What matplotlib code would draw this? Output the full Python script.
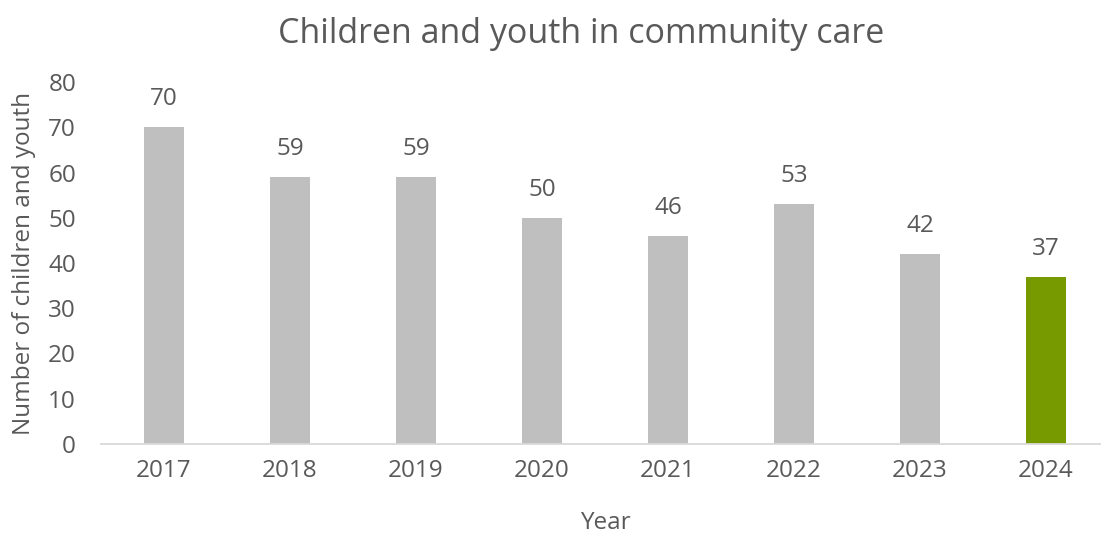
import matplotlib
matplotlib.use("Agg")
import matplotlib.pyplot as plt

years = ["2017", "2018", "2019", "2020", "2021", "2022", "2023", "2024"]
values = [70, 59, 59, 50, 46, 53, 42, 37]
colors = ["#BFBFBF"] * 7 + ["#779A00"]
yticks = [0, 10, 20, 30, 40, 50, 60, 70, 80]

plt.rcParams['font.family'] = ['Open Sans', 'DejaVu Sans']
TXT = "#595959"
FS = 17.5

W, H = 1101, 533
fig = plt.figure(figsize=(W / 100, H / 100), dpi=100)
ax = fig.add_axes([101 / W, (H - 444) / H, 1008 / W, (444 - 82) / H])

x = list(range(len(years)))
bars = ax.bar(x, values, width=0.32, color=colors, zorder=2)
for xi, v in zip(x, values):
    ax.annotate(str(v), (xi, v), xytext=(0, 20), textcoords="offset points",
                ha="center", va="center", fontsize=FS, color=TXT)

ax.set_xlim(-0.5, len(years) - 0.5)
ax.set_ylim(0, 80)
ax.set_xticks(x)
ax.set_xticklabels(years)
ax.set_yticks(yticks)
ax.tick_params(axis="both", length=0, labelsize=FS, colors=TXT)
ax.tick_params(axis="x", pad=11)
ax.tick_params(axis="y", pad=18)
for s in ["top", "right", "left"]:
    ax.spines[s].set_visible(False)
ax.spines["bottom"].set_color("#D9D9D9")
ax.spines["bottom"].set_linewidth(1.3)

ax.set_xlabel("Year", fontsize=FS, color=TXT, labelpad=20)
ax.set_ylabel("Number of children and youth", fontsize=FS, color=TXT, labelpad=9)
fig.text(581 / W, 1 - 34 / H, "Children and youth in community care",
         ha="center", va="center", fontsize=24.5, color=TXT)

fig.savefig("out.png", dpi=100)
